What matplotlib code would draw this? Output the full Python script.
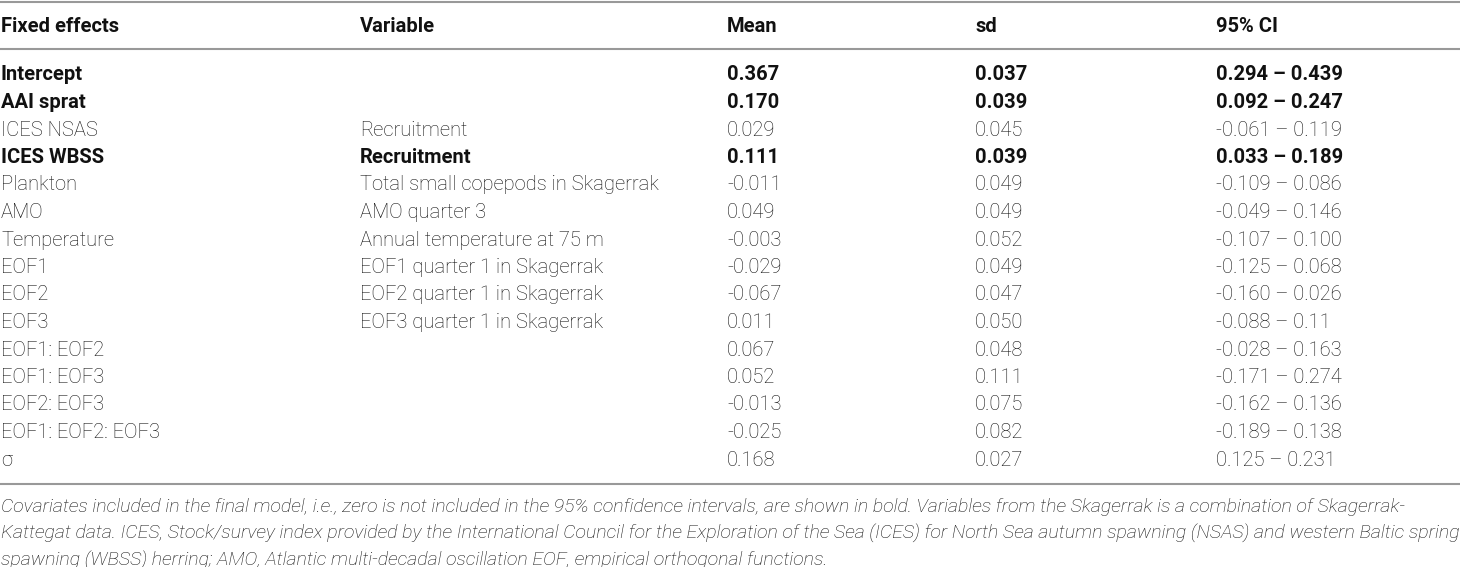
import matplotlib
matplotlib.use("Agg")
import matplotlib.pyplot as plt

headers = ["Fixed effects", "Variable", "Mean", "sd", "95% CI"]
fixed_effects = ["Intercept", "AAI sprat", "ICES NSAS", "ICES WBSS", "Plankton", "AMO",
                 "Temperature", "EOF1", "EOF2", "EOF3", "EOF1: EOF2", "EOF1: EOF3",
                 "EOF2: EOF3", "EOF1: EOF2: EOF3", "σ"]
variables = ["", "", "Recruitment", "Recruitment", "Total small copepods in Skagerrak",
             "AMO quarter 3", "Annual temperature at 75 m", "EOF1 quarter 1 in Skagerrak",
             "EOF2 quarter 1 in Skagerrak", "EOF3 quarter 1 in Skagerrak", "", "", "", "", ""]
means = ["0.367", "0.170", "0.029", "0.111", "-0.011", "0.049", "-0.003", "-0.029",
         "-0.067", "0.011", "0.067", "0.052", "-0.013", "-0.025", "0.168"]
sds = ["0.037", "0.039", "0.045", "0.039", "0.049", "0.049", "0.052", "0.049",
       "0.047", "0.050", "0.048", "0.111", "0.075", "0.082", "0.027"]
ci = ["0.294 – 0.439", "0.092 – 0.247", "-0.061 – 0.119", "0.033 – 0.189",
      "-0.109 – 0.086", "-0.049 – 0.146", "-0.107 – 0.100", "-0.125 – 0.068",
      "-0.160 – 0.026", "-0.088 – 0.11", "-0.028 – 0.163", "-0.171 – 0.274",
      "-0.162 – 0.136", "-0.189 – 0.138", "0.125 – 0.231"]
bold_rows = [True, True, False, True, False, False, False, False, False, False,
             False, False, False, False, False]
footnote = [
    "Covariates included in the final model, i.e., zero is not included in the 95% confidence intervals, are shown in bold. Variables from the Skagerrak is a combination of Skagerrak-",
    "Kattegat data. ICES, Stock/survey index provided by the International Council for the Exploration of the Sea (ICES) for North Sea autumn spawning (NSAS) and western Baltic spring",
    "spawning (WBSS) herring; AMO, Atlantic multi-decadal oscillation EOF, empirical orthogonal functions.",
]

W, H = 1460, 567
fig = plt.figure(figsize=(W / 100, H / 100), dpi=100)
ax = fig.add_axes([0, 0, 1, 1])
ax.set_xlim(0, W)
ax.set_ylim(H, 0)
ax.axis("off")

font = ["Roboto", "DejaVu Sans"]
fs = 14.5
fs_note = 14
txt_color = "#111111"
rule_color = "#999999"
col_x = [1, 360, 727, 975, 1216]

# rules
for y in [1.5, 49, 483.5]:
    ax.axhline(y, color=rule_color, lw=1.5, zorder=3)

# header
for x, h in zip(col_x, headers):
    ax.text(x, 27, h, fontsize=fs, fontweight="bold", family=font, color=txt_color,
            va="center", ha="left")

y0, dy = 75, (460 - 75) / 14
cols = [fixed_effects, variables, means, sds, ci]
for i in range(len(fixed_effects)):
    y = y0 + i * dy
    w = "bold" if bold_rows[i] else "light"
    for x, col in zip(col_x, cols):
        ax.text(x, y, col[i], fontsize=fs, fontweight=w, family=font, color=txt_color,
                va="center", ha="left")

for j, line in enumerate(footnote):
    ax.text(1, 507 + j * 26.5, line, fontsize=fs_note, fontstyle="italic", fontweight="light",
            family=font, color=txt_color, va="center", ha="left")

fig.savefig("out.png", dpi=100)
